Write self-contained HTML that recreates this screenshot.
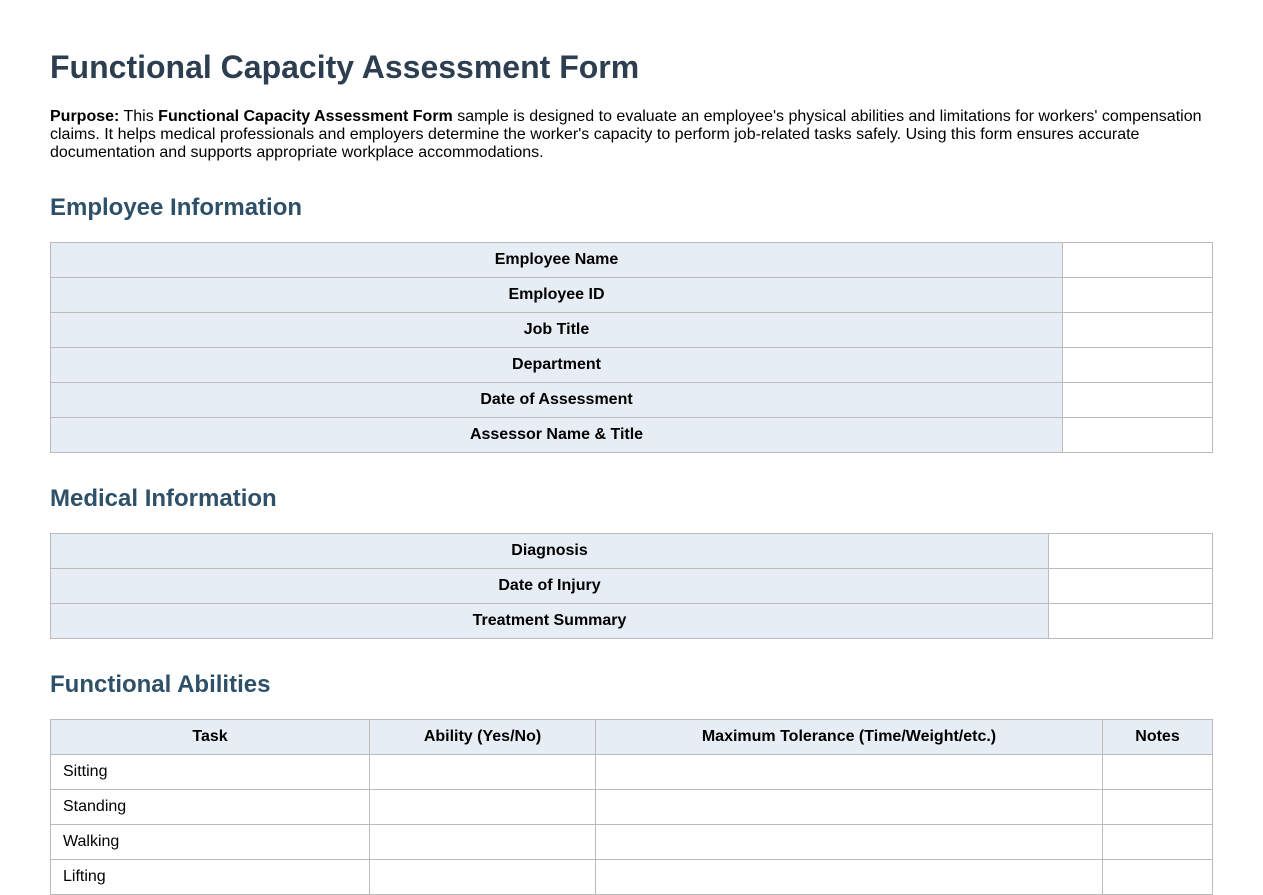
<!DOCTYPE html>
<html><head><meta charset="utf-8"><style>
body{margin:0;background:#fff;font-family:"Liberation Sans",Arial,sans-serif;color:#000;width:1263px;height:858px;overflow:hidden}
h1{position:absolute;left:50px;top:49px;margin:0;font-size:32px;color:#2c3e50;font-weight:bold}
p{position:absolute;left:50px;top:108px;width:1163px;margin:0;font-size:16px;line-height:18px}
h2{position:absolute;left:50px;margin:0;font-size:24px;color:#2e5068;font-weight:bold}
table{position:absolute;left:50px;width:1163px;border-collapse:collapse;font-size:16px}
td,th{border:1px solid #bbb;height:35px;padding:0 12px;box-sizing:border-box}
th{background:#e6edf5;font-weight:bold;text-align:center}
</style></head><body>
<h1>Functional Capacity Assessment Form</h1>
<p><b>Purpose:</b> This <b>Functional Capacity Assessment Form</b> sample is designed to evaluate an employee's physical abilities and limitations for workers' compensation claims. It helps medical professionals and employers determine the worker's capacity to perform job-related tasks safely. Using this form ensures accurate documentation and supports appropriate workplace accommodations.</p>
<h2 style="top:194px">Employee Information</h2>
<table style="top:242px">
<tr><th style="width:1012px">Employee Name</th><td></td></tr>
<tr><th>Employee ID</th><td></td></tr>
<tr><th>Job Title</th><td></td></tr>
<tr><th>Department</th><td></td></tr>
<tr><th>Date of Assessment</th><td></td></tr>
<tr><th>Assessor Name &amp; Title</th><td></td></tr>
</table>
<h2 style="top:485px">Medical Information</h2>
<table style="top:533px">
<tr><th style="width:998px">Diagnosis</th><td></td></tr>
<tr><th>Date of Injury</th><td></td></tr>
<tr><th>Treatment Summary</th><td></td></tr>
</table>
<h2 style="top:671px">Functional Abilities</h2>
<table style="top:719px">
<tr><th style="width:319px">Task</th><th style="width:226px">Ability (Yes/No)</th><th style="width:507px">Maximum Tolerance (Time/Weight/etc.)</th><th>Notes</th></tr>
<tr><td>Sitting</td><td></td><td></td><td></td></tr>
<tr><td>Standing</td><td></td><td></td><td></td></tr>
<tr><td>Walking</td><td></td><td></td><td></td></tr>
<tr><td>Lifting</td><td></td><td></td><td></td></tr>
</table>
</body></html>
